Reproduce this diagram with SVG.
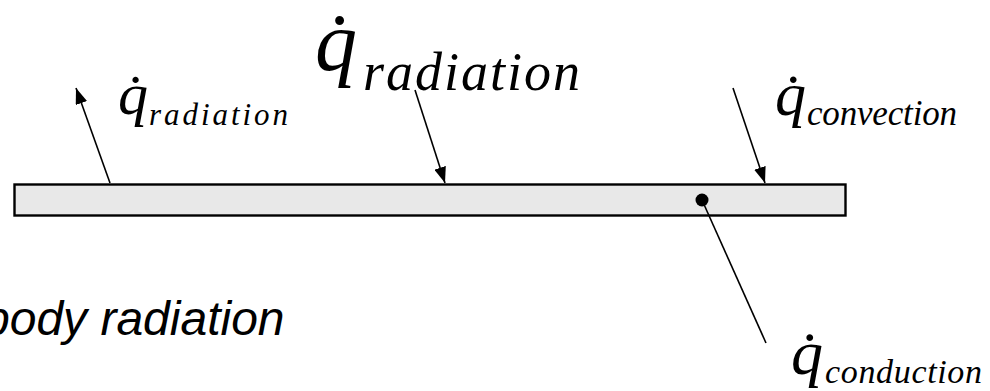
<svg xmlns="http://www.w3.org/2000/svg" width="990" height="391" viewBox="0 0 990 391">
<defs>
<style>
.q{font-family:"Liberation Serif","Times New Roman",serif;font-style:italic;fill:#000}
.sub{font-family:"Liberation Serif","Times New Roman",serif;font-style:italic;fill:#000}
.ln{stroke:#000;stroke-width:1.6;fill:none}
.cap{font-family:"Liberation Sans",Arial,sans-serif;font-style:italic;fill:#000}
</style>
<marker id="ah" viewBox="0 0 16 12" refX="16" refY="6" markerWidth="16" markerHeight="12" markerUnits="userSpaceOnUse" orient="auto">
<path d="M0,0 L16,6 L0,12 z" fill="#000"/>
</marker>
</defs>
<rect width="990" height="391" fill="#fff"/>
<g id="plate">
<rect x="14.5" y="184.5" width="831" height="31" fill="#e8e8e8" stroke="#000" stroke-width="2.4"/>
</g>
<g id="connectors">
<line class="ln" x1="110" y1="183" x2="76" y2="88" marker-end="url(#ah)"/>
<line class="ln" x1="415" y1="90" x2="445" y2="183" marker-end="url(#ah)"/>
<line class="ln" x1="733" y1="88" x2="765" y2="183" marker-end="url(#ah)"/>
<line class="ln" x1="702" y1="200" x2="766" y2="343"/>
<circle cx="702" cy="200" r="6.5" fill="#000"/>
</g>
<g id="label-radiation-out">
<text class="q" x="118" y="114" font-size="60">q̇</text>
<text class="sub" x="149" y="125" font-size="31" textLength="139" lengthAdjust="spacing">radiation</text>
</g>
<g id="label-radiation-in">
<text class="q" x="315" y="70" font-size="84">q̇</text>
<text class="sub" x="363" y="90" font-size="54" textLength="217" lengthAdjust="spacing">radiation</text>
</g>
<g id="label-convection">
<text class="q" x="775" y="115" font-size="62">q̇</text>
<text class="sub" x="807" y="125" font-size="35" textLength="150" lengthAdjust="spacing">convection</text>
</g>
<g id="label-conduction">
<text class="q" x="791" y="374" font-size="64">q̇</text>
<text class="sub" x="825" y="383" font-size="34" textLength="157" lengthAdjust="spacing">conduction</text>
</g>
<g id="caption">
<text class="cap" x="-17" y="335" font-size="48">body radiation</text>
</g>
</svg>
